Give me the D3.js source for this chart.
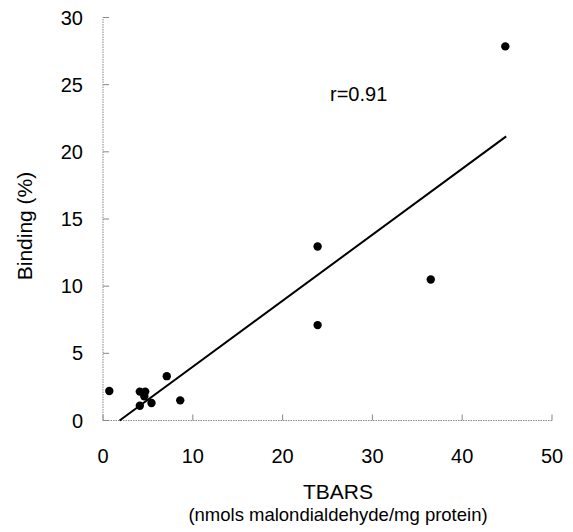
<!DOCTYPE html>
<html>
<head>
  <meta charset="UTF-8" />
  <script src="https://d3js.org/d3.v7.min.js"></script>
  <style>
    body { margin: 0; background: #fff; }
    text { font-family: "Liberation Sans", Arial, sans-serif; fill: #000; }
  </style>
</head>
<body>
  <script>
    // measured points (TBARS vs binding %)
    var tbars   = [0.7, 4.1, 4.7, 4.6, 5.4, 4.1, 7.1, 8.6, 23.9, 23.9, 36.5, 44.8];
    var binding = [2.2, 2.15, 2.15, 1.8, 1.3, 1.1, 3.3, 1.5, 12.95, 7.1, 10.5, 27.85];

    // regression line, as drawn
    var fitX = [1.85, 44.9];
    var fitY = [0, 21.15];

    var xTicks = [0, 10, 20, 30, 40, 50];
    var yTicks = [0, 5, 10, 15, 20, 25, 30];

    var width = 573, height = 532;

    var x = d3.scaleLinear().domain([0, 50]).range([103, 552]);
    var y = d3.scaleLinear().domain([0, 30]).range([420.5, 17.5]);

    var svg = d3.select("body").append("svg")
      .attr("width", width)
      .attr("height", height);

    // dotted axes with inward ticks
    var axisColor = "#888";
    svg.append("line")
      .attr("x1", x(0)).attr("x2", x(50))
      .attr("y1", y(0)).attr("y2", y(0))
      .attr("stroke", axisColor).attr("stroke-dasharray", "1.5,1");
    svg.append("line")
      .attr("x1", x(0)).attr("x2", x(0))
      .attr("y1", y(0)).attr("y2", y(30))
      .attr("stroke", axisColor).attr("stroke-dasharray", "1.5,1");

    svg.selectAll("line.xtick")
      .data(xTicks)
      .enter().append("line")
      .attr("class", "xtick")
      .attr("x1", function (d) { return x(d); })
      .attr("x2", function (d) { return x(d); })
      .attr("y1", y(0)).attr("y2", y(0) - 6)
      .attr("stroke", axisColor);

    svg.selectAll("line.ytick")
      .data(yTicks)
      .enter().append("line")
      .attr("class", "ytick")
      .attr("x1", x(0)).attr("x2", x(0) + 6)
      .attr("y1", function (d) { return y(d); })
      .attr("y2", function (d) { return y(d); })
      .attr("stroke", axisColor);

    // tick labels
    svg.selectAll("text.xlab")
      .data(xTicks)
      .enter().append("text")
      .attr("class", "xlab")
      .attr("x", function (d) { return x(d); })
      .attr("y", 463)
      .attr("text-anchor", "middle")
      .attr("font-size", 20)
      .text(function (d) { return d; });

    svg.selectAll("text.ylab")
      .data(yTicks)
      .enter().append("text")
      .attr("class", "ylab")
      .attr("x", 83)
      .attr("y", function (d) { return y(d) + 7; })
      .attr("text-anchor", "end")
      .attr("font-size", 20)
      .text(function (d) { return d; });

    // axis titles
    svg.append("text")
      .attr("x", 338).attr("y", 499)
      .attr("text-anchor", "middle")
      .attr("font-size", 21)
      .text("TBARS");
    svg.append("text")
      .attr("x", 338).attr("y", 521)
      .attr("text-anchor", "middle")
      .attr("font-size", 18.5)
      .text("(nmols malondialdehyde/mg protein)");
    svg.append("text")
      .attr("transform", "translate(32,226) rotate(-90)")
      .attr("text-anchor", "middle")
      .attr("font-size", 21)
      .text("Binding (%)");

    // fit line
    svg.append("line")
      .attr("x1", x(fitX[0])).attr("y1", y(fitY[0]))
      .attr("x2", x(fitX[1])).attr("y2", y(fitY[1]))
      .attr("stroke", "#000").attr("stroke-width", 2);

    // points
    svg.selectAll("circle.pt")
      .data(tbars)
      .enter().append("circle")
      .attr("class", "pt")
      .attr("cx", function (d) { return x(d); })
      .attr("cy", function (d, i) { return y(binding[i]); })
      .attr("r", 4.2)
      .attr("fill", "#000");

    svg.append("text")
      .attr("x", 330).attr("y", 101)
      .attr("font-size", 20)
      .text("r=0.91");
  </script>
</body>
</html>
